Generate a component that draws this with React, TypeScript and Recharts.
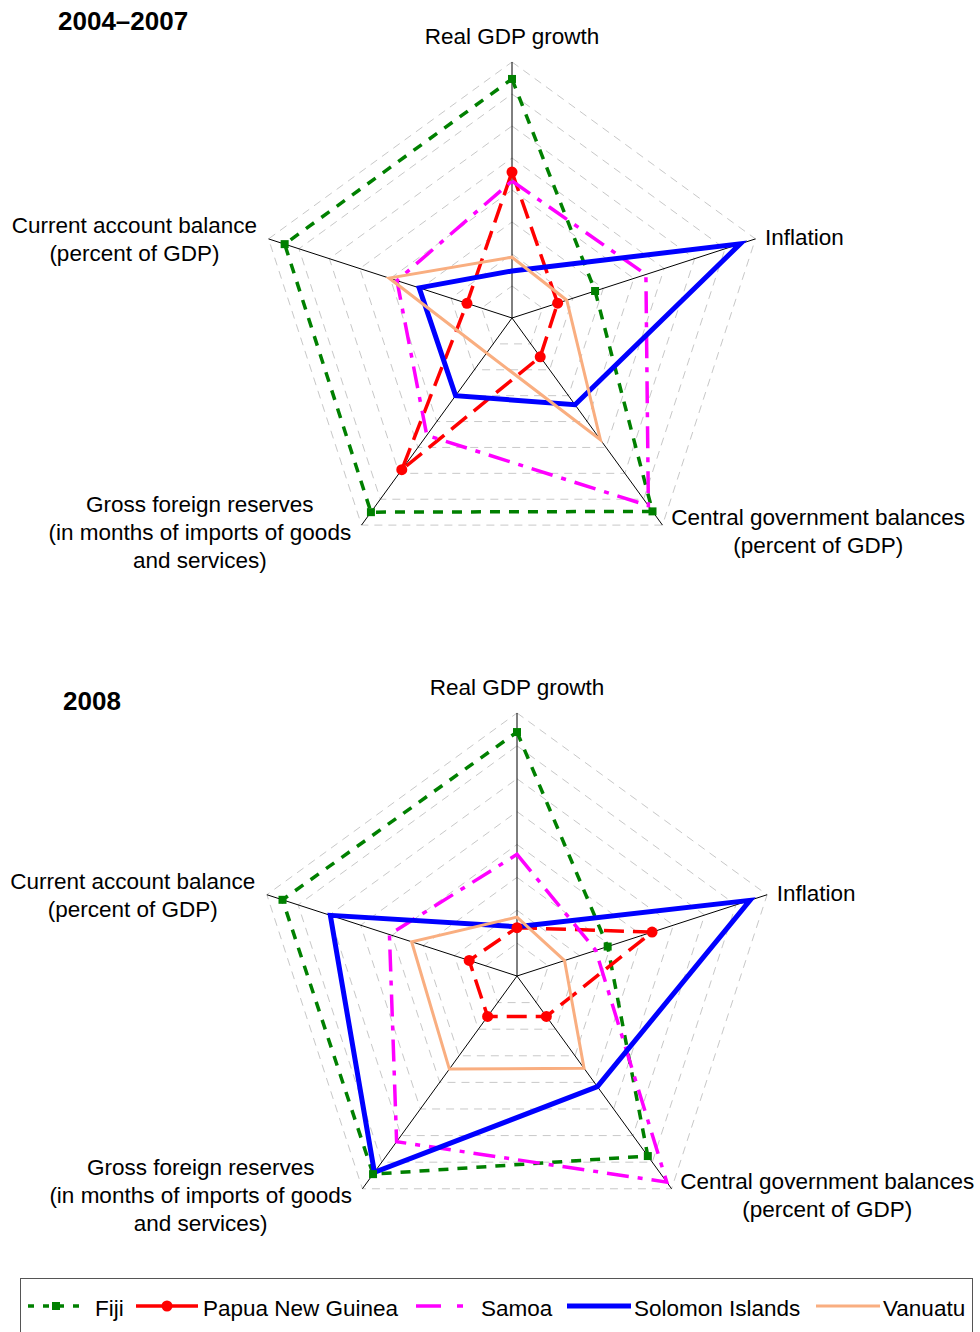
import React from "react";
import { PolarAngleAxis, PolarGrid, PolarRadiusAxis, Radar, RadarChart } from "recharts";

// axis order runs clockwise from the top
const axes = [
  "Real GDP growth",
  "Inflation",
  "Central government balances",
  "Gross foreign reserves",
  "Current account balance",
];

const axisLabelLines: Record<string, string[]> = {
  "Real GDP growth": ["Real GDP growth"],
  Inflation: ["Inflation"],
  "Central government balances": ["Central government balances", "(percent of GDP)"],
  "Gross foreign reserves": [
    "Gross foreign reserves",
    "(in months of imports of goods",
    "and services)",
  ],
  "Current account balance": ["Current account balance", "(percent of GDP)"],
};

// scores on the 0-8 grid
const fiji2004 = [7.47, 2.73, 7.47, 7.5, 7.47];
const png2004 = [4.56, 1.5, 1.5, 5.86, 1.48];
const samoa2004 = [4.28, 4.4, 7.25, 4.53, 3.78];
const solomon2004 = [1.47, 7.5, 3.35, 3.0, 3.05];
const vanuatu2004 = [1.9, 1.8, 4.7, 1.35, 4.04];

const fiji2008 = [7.42, 2.9, 6.77, 7.45, 7.5];
const png2008 = [1.47, 4.32, 1.52, 1.52, 1.53];
const samoa2008 = [3.7, 2.52, 7.75, 6.23, 4.08];
const solomon2008 = [1.5, 7.45, 4.16, 7.38, 5.97];
const vanuatu2008 = [1.79, 1.52, 3.47, 3.5, 3.37];

const FONT = "'Liberation Sans', Arial, sans-serif";

type Series = {
  key: string;
  name: string;
  color: string;
  width: number;
  dash?: string;
  legendDash?: string;
  marker?: "square" | "circle";
};

const series: Series[] = [
  { key: "fiji", name: "Fiji", color: "#008000", width: 3.5, dash: "10 9", legendDash: "6 9", marker: "square" },
  { key: "png", name: "Papua New Guinea", color: "#ff0000", width: 3.5, dash: "20 9", legendDash: "27 8", marker: "circle" },
  { key: "samoa", name: "Samoa", color: "#ff00ff", width: 3.5, dash: "22 9 5 9", legendDash: "25 16 6 20" },
  { key: "solomon", name: "Solomon Islands", color: "#0000ff", width: 5 },
  { key: "vanuatu", name: "Vanuatu", color: "#f9ae80", width: 3 },
];

const build = (f: number[], p: number[], s: number[], so: number[], v: number[]) =>
  axes.map((axis, i) => ({
    axis,
    fiji: f[i],
    png: p[i],
    samoa: s[i],
    solomon: so[i],
    vanuatu: v[i],
  }));

const data2004 = build(fiji2004, png2004, samoa2004, solomon2004, vanuatu2004);
const data2008 = build(fiji2008, png2008, samoa2008, solomon2008, vanuatu2008);

const labelPlacement: Record<string, { dx: number; dy: number; anchor: "start" | "middle" | "end" }> = {
  "Real GDP growth": { dx: 0, dy: -10.5, anchor: "middle" },
  Inflation: { dx: 2, dy: 9, anchor: "start" },
  "Central government balances": { dx: 151, dy: -6.5, anchor: "middle" },
  "Gross foreign reserves": { dx: -157, dy: -20, anchor: "middle" },
  "Current account balance": { dx: -126.5, dy: -3.5, anchor: "middle" },
};

function AxisTick(props: any) {
  const { x, y, payload } = props;
  const place = labelPlacement[payload.value];
  const lines = axisLabelLines[payload.value];
  const tx = x + place.dx;
  return (
    <text
      x={tx}
      y={y + place.dy}
      textAnchor={place.anchor}
      fontFamily={FONT}
      fontSize={22.5}
      fill="#000"
    >
      {lines.map((line, i) => (
        <tspan key={i} x={tx} dy={i === 0 ? 0 : 28}>
          {line}
        </tspan>
      ))}
    </text>
  );
}

function makeDot(s: Series) {
  if (s.marker === "square") {
    return (p: any) => (
      <rect key={p.index} x={p.cx - 4} y={p.cy - 4} width={8} height={8} fill={s.color} />
    );
  }
  if (s.marker === "circle") {
    return (p: any) => <circle key={p.index} cx={p.cx} cy={p.cy} r={5.5} fill={s.color} />;
  }
  return false;
}

function Spider({
  data,
  cx,
  cy,
  radius,
}: {
  data: any[];
  cx: number;
  cy: number;
  radius: number;
}) {
  return (
    <RadarChart
      width={980}
      height={650}
      data={data}
      cx={cx}
      cy={cy}
      outerRadius={radius}
      margin={{ top: 0, right: 0, bottom: 0, left: 0 }}
    >
      <PolarGrid gridType="polygon" radialLines={false} stroke="#c8c8c8" strokeDasharray="8 6" />
      <PolarGrid gridType="polygon" polarRadius={[0]} stroke="#000" strokeWidth={1} />
      <PolarAngleAxis dataKey="axis" tick={<AxisTick />} tickLine={false} axisLine={false} />
      <PolarRadiusAxis domain={[0, 8]} tickCount={9} tick={false} axisLine={false} />
      {series.map((s) => (
        <Radar
          key={s.key}
          dataKey={s.key}
          name={s.name}
          stroke={s.color}
          strokeWidth={s.width}
          strokeDasharray={s.dash}
          fill="none"
          fillOpacity={0}
          dot={makeDot(s) as any}
          isAnimationActive={false}
        />
      ))}
    </RadarChart>
  );
}

// legend slots: icon start, icon end, text start
const legendSlots = [
  [28, 84, 95],
  [136, 198, 203],
  [416, 468, 481],
  [567, 631, 634],
  [816, 880, 883],
];

function LegendBox() {
  const ly = 36;
  return (
    <svg width={980} height={62} style={{ position: "absolute", left: 0, top: 1270 }}>
      <rect x={20.5} y={8.5} width={952} height={80} fill="none" stroke="#555" strokeWidth={1} />
      {series.map((s, i) => {
        const [x1, x2, tx] = legendSlots[i];
        const mid = (x1 + x2) / 2;
        return (
          <g key={s.key}>
            <line
              x1={x1}
              x2={x2}
              y1={ly}
              y2={ly}
              stroke={s.color}
              strokeWidth={s.width}
              strokeDasharray={s.legendDash}
            />
            {s.marker === "square" && (
              <rect x={mid - 4} y={ly - 4} width={8} height={8} fill={s.color} />
            )}
            {s.marker === "circle" && <circle cx={mid} cy={ly} r={5.5} fill={s.color} />}
            <text x={tx} y={46} fontFamily={FONT} fontSize={22.5} fill="#000">
              {s.name}
            </text>
          </g>
        );
      })}
    </svg>
  );
}

export default function App() {
  return (
    <div
      style={{
        position: "absolute",
        left: 0,
        top: 0,
        width: 980,
        height: 1332,
        background: "#fff",
        overflow: "hidden",
        fontFamily: FONT,
      }}
    >
      <div style={{ position: "absolute", left: 0, top: 0 }}>
        <Spider data={data2004} cx={512} cy={318} radius={256} />
      </div>
      <div style={{ position: "absolute", left: 0, top: 650 }}>
        <Spider data={data2008} cx={517} cy={326} radius={263} />
      </div>
      <svg width={980} height={730} style={{ position: "absolute", left: 0, top: 0, pointerEvents: "none" }}>
        <text x={58} y={30} fontFamily={FONT} fontSize={26} fontWeight="bold">
          2004–2007
        </text>
        <text x={63} y={710} fontFamily={FONT} fontSize={26} fontWeight="bold">
          2008
        </text>
      </svg>
      <LegendBox />
    </div>
  );
}
